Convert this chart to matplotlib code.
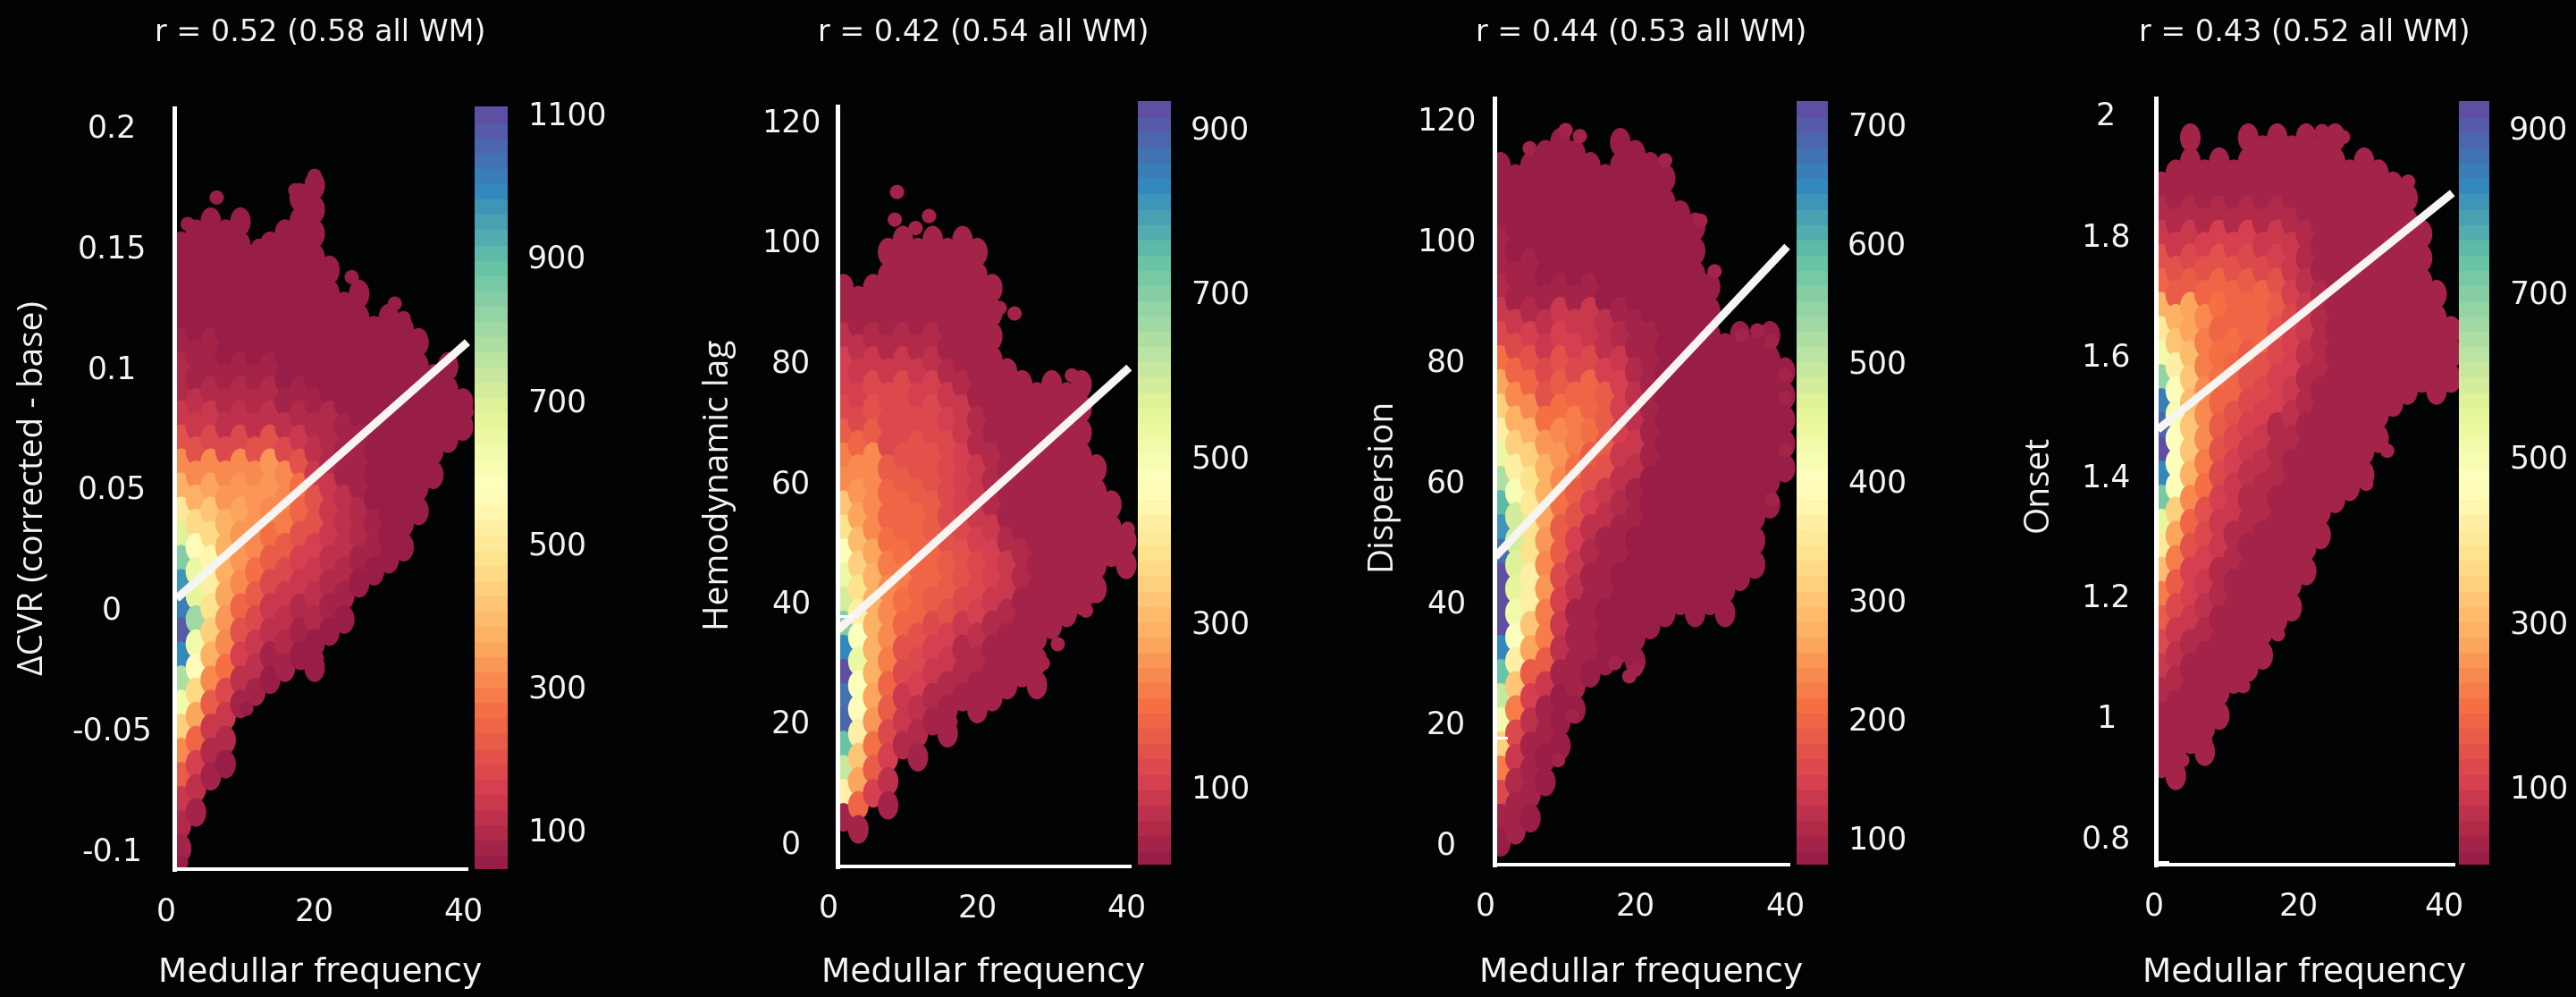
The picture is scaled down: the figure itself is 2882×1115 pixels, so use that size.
import matplotlib; matplotlib.use("Agg")
import matplotlib.pyplot as plt
from matplotlib.markers import MarkerStyle
from matplotlib.patches import Rectangle
from matplotlib.path import Path
from matplotlib.transforms import Affine2D
from matplotlib.colors import Normalize, LinearSegmentedColormap

W, H = 2882, 1115
BG = "#020305"
FG = "#f4f4f4"

freq_even = [2, 4, 6, 8, 10, 12, 14, 16, 18, 20, 22, 24, 26, 28, 30, 32, 34, 36, 38, 40]
freq_odd = [1, 3, 5, 7, 9, 11, 13, 15, 17, 19, 21, 23, 25, 27, 29, 31, 33, 35, 37, 39, 41]

# one list per row, top row first, left column first (trailing empty cells left out)
cvr_y = [.18, .17, .16, .15, .14, .13, .12, .11, .10, .09, .08, .07, .06, .05, .04, .03, .02, .01, 0,
         -.01, -.02, -.03, -.04, -.05, -.06, -.07, -.08, -.09, -.10]
cvr_counts = [
    [0]*9 + [60],
    [0]*8 + [60, 60],
    [0, 60, 60, 60, 60, 0, 0, 60, 60, 60],
    [60]*10,
    [60]*11,
    [60]*13,
    [60]*16,
    [70, 70, 70] + [60]*14,
    [90, 80, 80, 70, 70, 70, 70] + [60]*12,
    [100, 110, 100, 100, 90, 90, 90, 80, 70, 70] + [60]*10,
    [130, 130, 130, 120, 120, 120, 110, 110, 100, 100, 90, 80] + [60]*8,
    [200, 200, 190, 190, 190, 210, 210, 180, 150, 120, 100, 80, 70] + [60]*6,
    [300, 300, 300, 300, 300, 320, 330, 300, 200, 150, 100, 80, 70] + [60]*5,
    [380, 380, 350, 330, 330, 340, 340, 300, 260, 200, 150, 120, 80, 60, 60, 60, 60],
    [500, 450, 420, 380, 350, 330, 300, 280, 250, 200, 150, 120, 100, 70, 60, 60, 60],
    [700, 560, 460, 370, 340, 310, 260, 230, 200, 170, 130, 110, 90, 70, 60, 60],
    [850, 650, 540, 380, 330, 270, 220, 190, 170, 140, 110, 90, 70, 60, 60],
    [980, 680, 520, 350, 300, 230, 180, 150, 130, 110, 90, 70, 60],
    [1020, 800, 480, 330, 250, 180, 140, 120, 100, 90, 70, 60],
    [1080, 620, 440, 300, 200, 130, 110, 90, 70, 60, 60],
    [1000, 560, 380, 260, 160, 110, 80, 70, 60, 60],
    [780, 450, 300, 180, 120, 80, 60],
    [620, 350, 230, 130, 70],
    [430, 250, 150, 90],
    [300, 170, 100, 60],
    [220, 110, 70],
    [150, 70],
    [100],
    [70],
]
cvr_stray_x = [20, 17.4, 6.8, 2.9, 12.5, 13.6, 25, 30.8, 32, 40.5, 20.3, 18.3, 13.6, 10.8, 2]
cvr_stray_y = [.179, .173, .17, .159, .15, .15, .137, .126, .12, .081, -.021, -.023, -.03, -.042, -.106]

lag_y = [100, 96, 92, 88, 84, 80, 76, 72, 68, 64, 60, 56, 52, 48, 44, 40, 36, 32, 28, 24, 20, 16, 12, 8, 4]
lag_counts = [
    [0, 0, 0] + [30]*7,
    [0, 0, 0] + [30]*7,
    [30]*11,
    [40]*8 + [30]*3,
    [70, 70, 60, 60, 60, 60, 50, 40, 30, 30, 30],
    [100, 90, 90, 80, 80, 80, 70, 50, 40, 30, 30, 30],
    [100, 100, 130, 120, 120, 110, 100, 80, 60, 40] + [30]*7,
    [130, 130, 150, 130, 130, 130, 130, 110, 80, 50] + [30]*7,
    [170, 190, 170, 130, 130, 140, 130, 120, 90, 60, 40] + [30]*6,
    [210, 240, 230, 170, 140, 150, 140, 120, 100, 80, 50, 40] + [30]*6,
    [230, 250, 240, 180, 170, 170, 150, 130, 100, 80, 60, 40] + [30]*6,
    [320, 270, 230, 190, 180, 180, 160, 130, 110, 90, 60, 40] + [30]*7,
    [380, 310, 230, 200, 190, 190, 170, 150, 120, 100, 80, 60, 40] + [30]*7,
    [460, 350, 270, 220, 200, 190, 180, 170, 150, 120, 100, 80, 60, 40] + [30]*6,
    [530, 390, 300, 240, 210, 190, 190, 170, 150, 120, 100, 80, 60, 40] + [30]*4,
    [580, 430, 300, 240, 200, 180, 160, 140, 120, 100, 80, 60, 40] + [30]*4,
    [700, 470, 300, 230, 180, 140, 120, 100, 90, 70, 50, 40, 30, 30, 30],
    [830, 530, 300, 210, 150, 120, 100, 80, 60, 50, 40, 30, 30, 30],
    [930, 480, 300, 190, 120, 100, 80, 60, 50, 40, 30, 30, 30, 30],
    [870, 450, 280, 160, 90, 70, 50, 40, 30, 30, 30],
    [890, 430, 260, 120, 80, 50, 30, 30],
    [740, 330, 200, 100, 60, 30],
    [600, 270, 170, 70],
    [420, 180, 110, 40],
    [40, 40],
]
lag_stray_x = [9.2, 8.9, 13.5, 11.7, 2.2, 23, 25, 32.7, 33.8, 35.5, 34.6, 30.8, 28.8, 16.4, 40.2]
lag_stray_y = [108, 103.4, 104, 102, 92.5, 88.7, 87.8, 77.5, 75.9, 40.8, 38.4, 32.8, 29.6, 19.9, 52]

disp_y = [116, 112, 108, 104, 100, 96, 92, 88, 84, 80, 76, 72, 68, 64, 60, 56, 52, 48, 44, 40, 36, 32, 28, 24,
          20, 16, 12, 8, 4, 0]
disp_counts = [
    [0, 0, 0, 85, 85, 85, 0, 0, 85, 85],
    [85]*12,
    [85]*12,
    [85]*14,
    [90] + [85]*13,
    [100, 90, 90] + [85]*11,
    [110, 100, 90, 90, 100, 95, 90] + [85]*8,
    [130, 130, 115, 120, 140, 130, 130, 120, 100, 90] + [85]*5,
    [165, 160, 145, 135, 150, 150, 140, 125, 115, 100, 100] + [85]*8,
    [215, 195, 170, 160, 170, 165, 165, 150, 130, 110, 90] + [85]*9,
    [260, 235, 200, 175, 185, 195, 195, 185, 150, 120, 100] + [85]*9,
    [310, 270, 240, 215, 215, 220, 205, 190, 150, 120, 100] + [85]*9,
    [370, 320, 280, 250, 240, 225, 210, 180, 150, 130, 100] + [85]*9,
    [440, 360, 320, 270, 245, 210, 190, 170, 140, 120, 100] + [85]*9,
    [520, 420, 340, 270, 240, 190, 170, 140, 120, 100] + [85]*9,
    [600, 480, 350, 260, 210, 170, 150, 120, 110, 100] + [85]*9,
    [630, 480, 340, 250, 190, 150, 120, 100, 90] + [85]*9,
    [680, 470, 340, 240, 180, 130, 110, 100, 90] + [85]*9,
    [715, 450, 370, 250, 160, 120, 100, 90] + [85]*9,
    [710, 430, 370, 230, 150, 100, 90] + [85]*9,
    [710, 400, 300, 220, 130, 100, 90, 85, 85, 85, 85],
    [650, 370, 260, 190, 120, 100, 90, 85, 85, 85],
    [580, 300, 180, 130, 100, 90, 85],
    [500, 230, 150, 100, 85, 85],
    [430, 160, 120, 90, 80],
    [310, 130, 100, 85, 80],
    [220, 110, 95, 80],
    [160, 100, 90],
    [100, 90, 85],
    [80],
]
disp_stray_x = [10.7, 12.6, 5.9, 24, 28.7, 30.6, 36.3, 34.2, 38.2, 40, 40, 40, 38.2, 20, 17.3, 11.6, 9.7, 19.2]
disp_stray_y = [118, 117, 115, 113, 103, 94.6, 84.8, 84, 83, 77.4, 73.7, 65, 56.8, 28.6, 29.7, 21, 13.6, 27.5]

onset_y = [1.96, 1.92, 1.88, 1.84, 1.80, 1.76, 1.72, 1.68, 1.64, 1.60, 1.56, 1.52, 1.48, 1.44, 1.40, 1.36, 1.32,
           1.28, 1.24, 1.20, 1.16, 1.12, 1.08, 1.04, 1.00, .96, .92]
onset_counts = [
    [0, 0, 30, 0, 0, 0, 30, 30, 30, 30, 30, 30, 30],
    [0] + [30]*15,
    [30]*18,
    [60]*10 + [30]*8,
    [90, 90, 90, 100, 110, 100, 100, 90, 90, 80, 60] + [30]*8,
    [150, 140, 130, 140, 140, 140, 130, 120, 110, 90, 60] + [30]*8,
    [190, 170, 170, 180, 175, 175, 170, 175, 150, 110, 70, 50] + [30]*8,
    [300, 290, 270, 230, 200, 190, 190, 190, 170, 120, 80, 50] + [30]*8,
    [400, 320, 270, 220, 190, 195, 185, 175, 150, 110, 80, 50] + [30]*9,
    [520, 420, 310, 220, 200, 190, 170, 150, 120, 100, 70, 50] + [30]*9,
    [680, 450, 320, 230, 200, 175, 150, 130, 110, 90, 60, 40] + [30]*9,
    [840, 500, 310, 240, 180, 150, 120, 110, 100, 70, 50] + [30]*6,
    [880, 470, 320, 230, 170, 130, 100, 80, 60, 50, 40] + [30]*5,
    [920, 480, 330, 220, 150, 110, 90, 70, 60, 40] + [30]*5,
    [830, 450, 300, 200, 120, 90, 70, 60, 50, 40] + [30]*5,
    [720, 350, 240, 150, 100, 80, 60, 50, 40] + [30]*4,
    [550, 280, 190, 130, 90, 60, 50, 40] + [30]*4,
    [400, 220, 140, 110, 80, 60, 40] + [30]*4,
    [310, 170, 110, 90, 60, 40] + [30]*5,
    [220, 120, 100, 70, 50] + [30]*5,
    [170, 90, 80, 50, 40] + [30]*4,
    [120, 70, 60, 40] + [30]*4,
    [90, 60, 40, 30, 30, 30, 30],
    [60, 40, 30, 30, 30],
    [40, 30, 30, 30, 30],
    [30, 30, 30, 30],
    [30, 30],
]
onset_stray_x = [35.1, 32.2, 41.1, 41.2, 23.2, 26.1, 29.3, 19, 17.1, 15.3, 11.3, 12.3, 9.2, 3.3, 1.3, 3.9, 7.1]
onset_stray_y = [1.887, 1.44, 1.618, 1.65, 1.971, 1.961, 1.385, 1.179, 1.135, 1.107, 1.092, 1.049, 1.06, .908,
                 .912, .926, .957]

fit_x = [[1.4, 40.6], [1.3, 40.4], [1.3, 40.3], [0.5, 41.2]]
fit_y = [[.0037, .110], [35.2, 78.8], [47.3, 98.7], [1.475, 1.868]]
# short white marks next to the left axis
stub_x = [None, [1.3, 2.9], [1.3, 2.7], [0.2, 1.8]]
stub_y = [None, [37.5, 37.5], [17.3, 17.3], [.757, .757]]

titles = ["r = 0.52 (0.58 all WM)", "r = 0.42 (0.54 all WM)", "r = 0.44 (0.53 all WM)", "r = 0.43 (0.52 all WM)"]
ylabels = ["\u0394CVR (corrected - base)", "Hemodynamic lag", "Dispersion", "Onset"]
xticks = [0, 20, 40]
yticks = [[.2, .15, .1, .05, 0, -.05, -.1], [120, 100, 80, 60, 40, 20, 0], [120, 100, 80, 60, 40, 20, 0],
          [2, 1.8, 1.6, 1.4, 1.2, 1, .8]]
yticklabels = [["0.2", "0.15", "0.1", "0.05", "0", "-0.05", "-0.1"], ["120", "100", "80", "60", "40", "20", "0"],
               ["120", "100", "80", "60", "40", "20", "0"], ["2", "1.8", "1.6", "1.4", "1.2", "1", "0.8"]]
cbar_ticks = [[100, 300, 500, 700, 900, 1100], [100, 300, 500, 700, 900], [100, 200, 300, 400, 500, 600, 700],
              [100, 300, 500, 700, 900]]
cbar_lim = [(44, 1109), (5, 931), (77, 719), (5, 931)]

# pixel layout: x tick 0 / x tick 40, y tick a / y tick b (with their values), spine, axis end, top, bottom, colorbar
layout = [
    dict(x0=186, x40=518, ya=(.2, 140), yb=(-.1, 949), sp=195, end=522, top=121, bot=972, cb=(531, 568, 119, 972),
         ylab=(38, 546), lab=125, mid=358),
    dict(x0=927, x40=1260, ya=(120, 134), yb=(0, 941), sp=937, end=1264, top=119, bot=969, cb=(1273, 1310, 113, 967),
         ylab=(805, 542), lab=885, mid=1100),
    dict(x0=1662, x40=1997, ya=(120, 132), yb=(0, 942), sp=1672, end=2001, top=110, bot=967, cb=(2010, 2045, 113, 967),
         ylab=(1545, 541), lab=1618, mid=1836),
    dict(x0=2410, x40=2734, ya=(2, 127), yb=(.8, 935), sp=2412, end=2745, top=110, bot=967, cb=(2751, 2785, 113, 967),
         ylab=(2281, 541), lab=2356, mid=2578),
]
panels = [
    (freq_even, cvr_y, cvr_counts, cvr_stray_x, cvr_stray_y),
    (freq_even, lag_y, lag_counts, lag_stray_x, lag_stray_y),
    (freq_even, disp_y, disp_counts, disp_stray_x, disp_stray_y),
    (freq_odd, onset_y, onset_counts, onset_stray_x, onset_stray_y),
]

cmap = LinearSegmentedColormap.from_list("spectral_soft", [
    "#981d47", "#d53e4f", "#f46d43", "#fdae61", "#fee08b", "#ffffbf",
    "#e6f598", "#abdda4", "#66c2a5", "#3288bd", "#5e4fa2"], N=50)
blob = MarkerStyle(Path.unit_circle().transformed(Affine2D().scale(0.72, 1)))
PT = 72 / 100  # points per pixel at dpi 100
NARROW = ["Open Sans", "DejaVu Sans"]

fig = plt.figure(figsize=(W / 100, H / 100), dpi=100, facecolor=BG)

for i, (xs, ys, counts, sx, sy) in enumerate(panels):
    L = layout[i]
    left = L["x0"] - 25
    right = L["cb"][0] - 1
    ax = fig.add_axes([left / W, 1 - L["bot"] / H, (right - left) / W, (L["bot"] - L["top"]) / H], facecolor="none")
    kx = (L["x40"] - L["x0"]) / 40
    ky = (L["yb"][1] - L["ya"][1]) / (L["ya"][0] - L["yb"][0])
    ax.set_xlim((left - L["x0"]) / kx, (right - L["x0"]) / kx)
    ax.set_ylim(L["ya"][0] - (L["bot"] - L["ya"][1]) / ky, L["ya"][0] + (L["ya"][1] - L["top"]) / ky)
    sp_x = (L["sp"] - L["x0"]) / kx
    end_x = (L["end"] - L["x0"]) / kx
    norm = Normalize(*cbar_lim[i])
    step = abs(ys[1] - ys[0])

    # columns left to right, so each band overlaps the one before it; every other column sits half a row lower
    px, py, pc = [], [], []
    for j, x in enumerate(xs):
        for y, row in zip(ys, counts):
            if j < len(row) and row[j] > 0:
                px.append(x)
                py.append(y - (step / 2 if j % 2 else 0))
                pc.append(row[j])
    clip = Rectangle((sp_x, ax.get_ylim()[0]), 60, 1e3, transform=ax.transData)
    sc = ax.scatter(px, py, c=pc, s=(32 * PT) ** 2, marker=blob, cmap=cmap, norm=norm, linewidths=0, zorder=2)
    sc.set_clip_path(clip)
    st = ax.scatter(sx, sy, c=[cbar_lim[i][0] + 0.02 * (cbar_lim[i][1] - cbar_lim[i][0])] * len(sx), s=(16 * PT) ** 2,
                    cmap=cmap, norm=norm, linewidths=0, zorder=2)
    st.set_clip_path(clip)
    ax.plot(fit_x[i], fit_y[i], color="#f7f5f2", lw=9 * PT, solid_capstyle="butt", zorder=4)
    if stub_x[i]:
        ax.plot(stub_x[i], stub_y[i], color="white", lw=3 * PT, zorder=4)

    for s in ("top", "right"):
        ax.spines[s].set_visible(False)
    ax.spines["left"].set_position(("data", sp_x))
    ax.spines["left"].set_color("white")
    ax.spines["left"].set_linewidth(5 * PT)
    ax.spines["left"].set_zorder(5)
    ax.spines["bottom"].set_bounds(sp_x, end_x)
    ax.spines["bottom"].set_color("white")
    ax.spines["bottom"].set_linewidth(4 * PT)

    ax.set_xticks(xticks)
    ax.set_xticklabels([str(t) for t in xticks])
    ax.set_yticks(yticks[i])
    ax.set_yticklabels(yticklabels[i])
    ax.tick_params(axis="x", length=0, pad=30 * PT, labelsize=25, labelcolor=FG)
    ax.tick_params(axis="y", length=0, pad=(L["sp"] - L["lab"]) * PT, labelsize=25, labelcolor=FG)
    for t in ax.get_yticklabels():
        t.set_ha("center")

    fig.text(L["mid"] / W, 1 - 36 / H, titles[i], color=FG, fontsize=24, ha="center", va="center")
    fig.text(L["mid"] / W, 1 - 1088 / H, "Medullar frequency", color=FG, fontsize=27, ha="center", va="center")
    fig.text(L["ylab"][0] / W, 1 - L["ylab"][1] / H, ylabels[i], color=FG, fontsize=28, rotation=90,
             ha="center", va="center", family=NARROW)

    c0, c1, ctop, cbot = L["cb"]
    cax = fig.add_axes([c0 / W, 1 - cbot / H, (c1 - c0) / W, (cbot - ctop) / H])
    cb = fig.colorbar(sc, cax=cax, ticks=cbar_ticks[i])
    cb.outline.set_visible(False)
    cb.solids.set_edgecolor("face")
    cax.tick_params(length=0, pad=22 * PT, labelsize=25, labelcolor=FG)

fig.savefig("out.png", dpi=100, facecolor=BG)
